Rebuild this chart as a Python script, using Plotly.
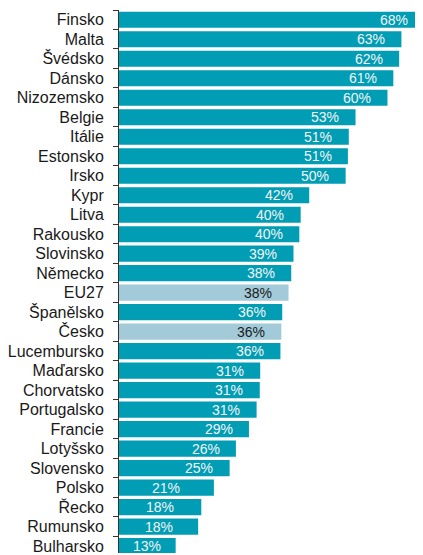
import plotly.graph_objects as go

categories = ["Finsko", "Malta", "Švédsko", "Dánsko", "Nizozemsko", "Belgie", "Itálie",
              "Estonsko", "Irsko", "Kypr", "Litva", "Rakousko", "Slovinsko", "Německo",
              "EU27", "Španělsko", "Česko", "Lucembursko", "Maďarsko", "Chorvatsko",
              "Portugalsko", "Francie", "Lotyšsko", "Slovensko", "Polsko", "Řecko",
              "Rumunsko", "Bulharsko"]
values = [68.0, 62.8, 62.3, 61.0, 59.7, 52.6, 51.1,
          50.9, 50.4, 42.3, 40.4, 40.1, 38.8, 38.3,
          37.7, 36.3, 36.1, 35.9, 31.4, 31.3,
          30.6, 28.9, 26.0, 24.6, 21.1, 18.3,
          17.6, 12.6]
highlighted = ["EU27", "Česko"]

TEAL = "#009DB5"
LIGHT = "#A2CAD8"
FONT = "Liberation Sans, Arial, sans-serif"

# page has an 8px body margin; figure sized to fit the 423x555 window
W, H = 415, 547
M_L, M_R, M_T, M_B = 108, 0, 2, 0
PLOT_W = W - M_L - M_R
X_MAX = 67.6
LABEL_PAD_PX = 14.5
CENTER_BELOW = 23

colors = [LIGHT if c in highlighted else TEAL for c in categories]
label_colors = ["#1A1A1A" if c in highlighted else "#F4F4F4" for c in categories]

fig = go.Figure(go.Bar(
    x=values, y=categories, orientation="h",
    marker=dict(color=colors, line=dict(width=0)),
    hoverinfo="skip",
))

pad_data = LABEL_PAD_PX * X_MAX / PLOT_W
annotations = []
for c, v, lc in zip(categories, values, label_colors):
    if v >= CENTER_BELOW:
        ax_x, anchor = v - pad_data, "right"
    else:
        ax_x, anchor = v / 2, "center"
    annotations.append(dict(
        x=ax_x, y=c, xref="x", yref="y", text=f"{v:.0f}%", showarrow=False,
        xanchor=anchor, yanchor="middle",
        font=dict(family=FONT, size=14, color=lc),
    ))

fig.update_layout(
    width=W, height=H,
    margin=dict(l=M_L, r=M_R, t=M_T, b=M_B, pad=0),
    paper_bgcolor="white", plot_bgcolor="white",
    bargap=0.17,
    showlegend=False,
    annotations=annotations,
    xaxis=dict(range=[0, X_MAX], visible=False, showgrid=False, zeroline=False),
    yaxis=dict(
        type="category",
        categoryorder="array", categoryarray=categories,
        range=[len(categories) - 0.65, -0.5],
        showline=True, linecolor="#333333", linewidth=1,
        ticks="outside", tickson="boundaries", ticklen=5, tickcolor="#333333", tickwidth=1,
        ticklabelstandoff=11,
        tickfont=dict(family=FONT, size=16, color="#1A1A1A"),
        showgrid=False, zeroline=False,
    ),
)

fig.write_html("out.html")
